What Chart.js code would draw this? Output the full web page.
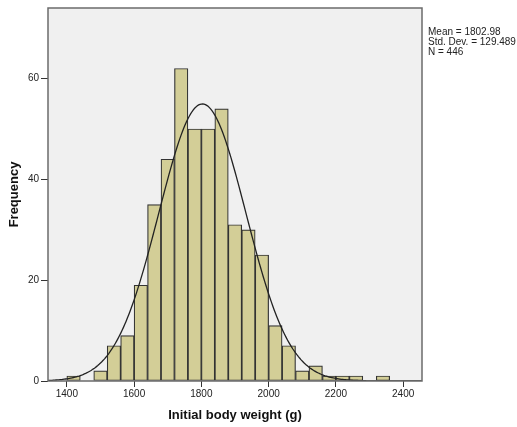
<!DOCTYPE html>
<html lang="en">
<head>
    <meta charset="UTF-8">
    <title>Initial body weight histogram</title>
    <script src="https://cdn.jsdelivr.net/npm/chart.js"></script>
    <style>
        body { margin: 0; background: #fff; }
    </style>
</head>
<body>
    <canvas id="histChart" width="517" height="427"></canvas>

    <script>
        // bins of 40 g, centre of each bin
        const binCenters = [1420, 1460, 1500, 1540, 1580, 1620, 1660, 1700, 1740, 1780, 1820, 1860,
                            1900, 1940, 1980, 2020, 2060, 2100, 2140, 2180, 2220, 2260, 2300, 2340];
        const frequencies = [1, 0, 2, 7, 9, 19, 35, 44, 62, 50, 50, 54,
                             31, 30, 25, 11, 7, 2, 3, 1, 1, 1, 0, 1];
        const binWidth = 40;

        const xTicks = [1400, 1600, 1800, 2000, 2200, 2400];
        const yTicks = [0, 20, 40, 60];

        // summary shown in the box on the right
        const mean = 1802.98;
        const stdDev = 129.489;
        const nCases = 446;
        const statsLines = ['Mean = 1802.98', 'Std. Dev. = 129.489', 'N = 446'];

        const xMin = 1344, xMax = 2456, yMax = 74;

        const bars = binCenters
            .map((x, i) => ({ x: x, y: frequencies[i] }))
            .filter(p => p.y > 0);

        // fitted normal curve, scaled to counts per bin
        const curve = [];
        for (let x = xMin; x <= xMax; x += 4) {
            const z = (x - mean) / stdDev;
            curve.push({ x: x, y: nCases * binWidth * Math.exp(-0.5 * z * z) / (stdDev * Math.sqrt(2 * Math.PI)) });
        }

        const plotBox = {
            id: 'plotBox',
            beforeDatasetsDraw(chart) {
                const { ctx, chartArea: a } = chart;
                ctx.save();
                ctx.fillStyle = '#f0f0f0';
                ctx.fillRect(a.left, a.top, a.right - a.left, a.bottom - a.top);
                ctx.restore();
            },
            afterDatasetsDraw(chart) {
                const { ctx, chartArea: a } = chart;
                ctx.save();
                ctx.strokeStyle = '#6b6b6b';
                ctx.lineWidth = 1.5;
                ctx.strokeRect(a.left, a.top, a.right - a.left, a.bottom - a.top);
                ctx.fillStyle = '#222';
                ctx.font = '10px "Liberation Sans", Arial, sans-serif';
                ctx.textBaseline = 'middle';
                statsLines.forEach((t, i) => ctx.fillText(t, a.right + 6, 32 + i * 10));
                ctx.restore();
            }
        };

        const tickFont = { family: '"Liberation Sans", Arial, sans-serif', size: 10 };
        const titleFont = { family: '"Liberation Sans", Arial, sans-serif', size: 13, weight: 'bold' };

        new Chart(document.getElementById('histChart'), {
            data: {
                datasets: [{
                    type: 'bar',
                    data: bars,
                    backgroundColor: '#d3ce97',
                    borderColor: '#333',
                    borderWidth: 1.2,
                    borderSkipped: false,
                    barPercentage: 1,
                    categoryPercentage: 1,
                    order: 1
                }, {
                    type: 'line',
                    data: curve,
                    borderColor: '#222',
                    borderWidth: 1.3,
                    pointRadius: 0,
                    fill: false,
                    order: 0
                }]
            },
            plugins: [plotBox],
            options: {
                responsive: false,
                animation: false,
                layout: { padding: { top: 8, right: 95, left: 0, bottom: 0 } },
                plugins: {
                    legend: { display: false },
                    tooltip: { enabled: false }
                },
                scales: {
                    x: {
                        type: 'linear',
                        min: xMin,
                        max: xMax,
                        offset: false,
                        afterBuildTicks: s => { s.ticks = xTicks.map(v => ({ value: v })); },
                        afterFit: s => { s.height = 46; },
                        grid: { drawOnChartArea: false, offset: false, tickLength: 6, color: '#333' },
                        border: { display: false },
                        ticks: { color: '#222', padding: 1, maxRotation: 0, font: tickFont,
                                 callback: v => String(v) },
                        title: { display: true, text: 'Initial body weight (g)', color: '#111',
                                 padding: { top: 0, bottom: 4 }, font: titleFont }
                    },
                    y: {
                        min: 0,
                        max: yMax,
                        afterBuildTicks: s => { s.ticks = yTicks.map(v => ({ value: v })); },
                        afterFit: s => { s.width = 48; },
                        grid: { drawOnChartArea: false, tickLength: 7, color: '#333' },
                        border: { display: false },
                        ticks: { color: '#222', padding: 2, font: tickFont,
                                 callback: v => String(v) },
                        title: { display: true, text: 'Frequency', color: '#111',
                                 padding: { top: 7, bottom: 0 }, font: titleFont }
                    }
                }
            }
        });
    </script>
</body>
</html>
